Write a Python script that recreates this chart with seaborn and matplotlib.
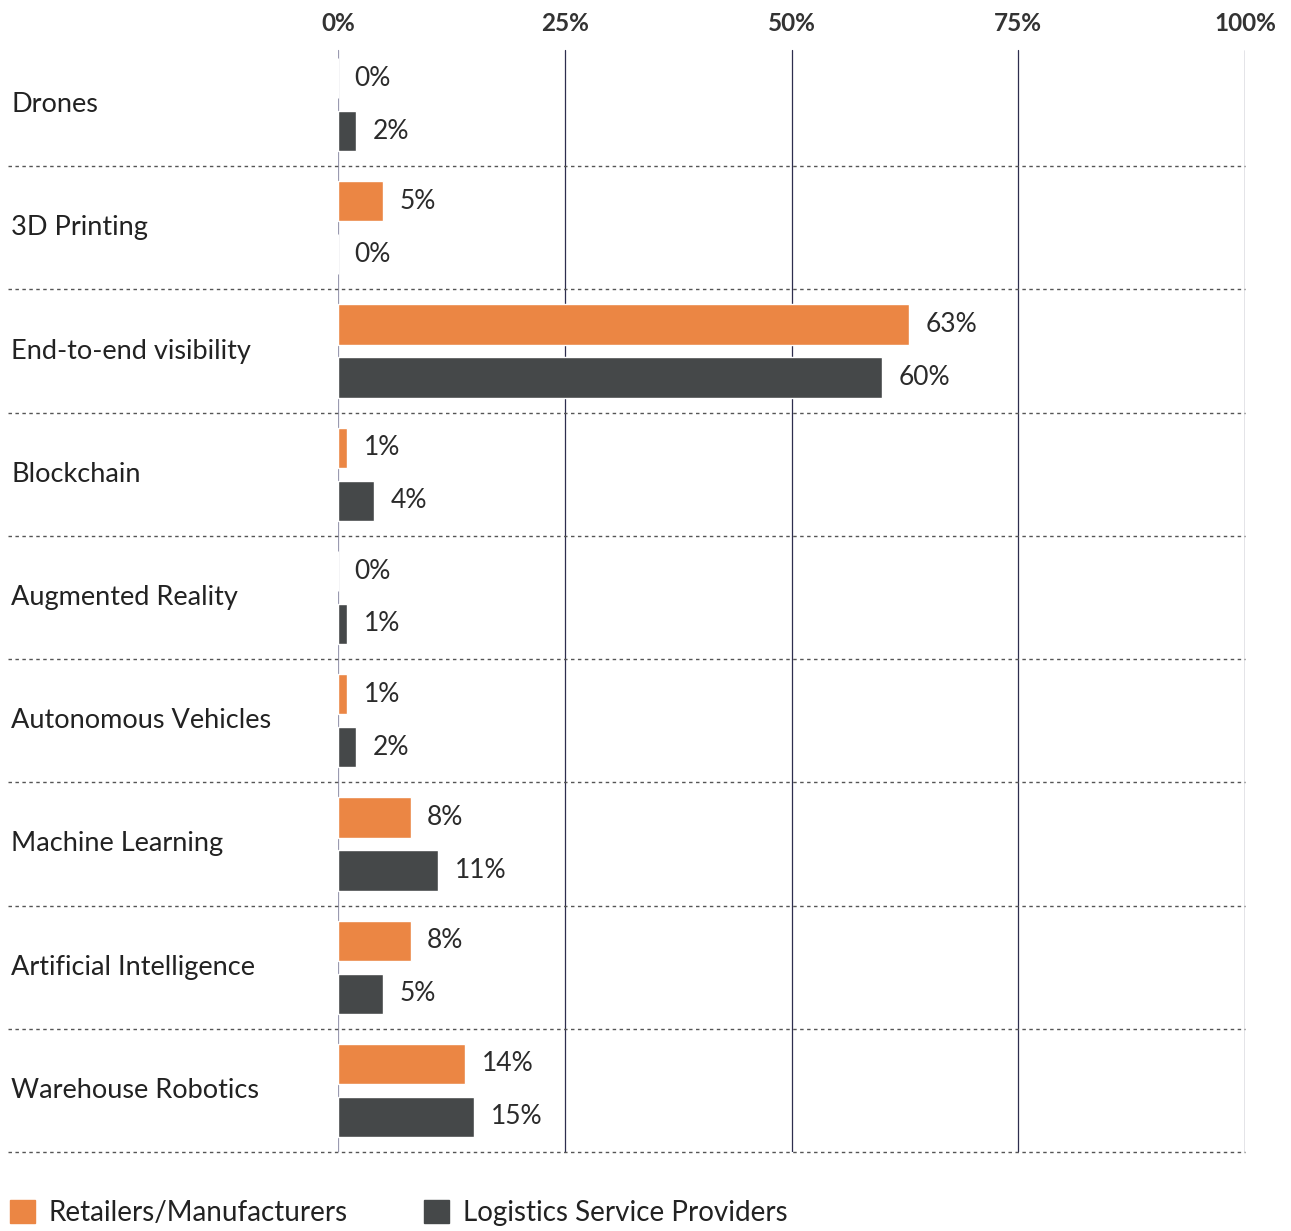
import matplotlib
matplotlib.use("Agg")
import matplotlib.pyplot as plt
import pandas as pd
import numpy as np
import seaborn as sns

categories = ["Drones", "3D Printing", "End-to-end visibility", "Blockchain",
              "Augmented Reality", "Autonomous Vehicles", "Machine Learning",
              "Artificial Intelligence", "Warehouse Robotics"]
retailers = [0, 5, 63, 1, 0, 1, 8, 8, 14]
logistics = [2, 0, 60, 4, 1, 2, 11, 5, 15]
series_names = ["Retailers/Manufacturers", "Logistics Service Providers"]
x_ticks = [0, 25, 50, 75, 100]

orange = "#EB8644"
dark = "#454849"

sns.set_theme(style="white")
plt.rcParams["font.family"] = ["Lato", "DejaVu Sans"]

df = pd.DataFrame({
    "Category": categories * 2,
    "Value": retailers + logistics,
    "Group": [series_names[0]] * len(categories) + [series_names[1]] * len(categories),
})

fig = plt.figure(figsize=(12.91, 12.31), dpi=100)
ax = fig.add_axes([338 / 1291, 1 - 1152 / 1231, 907 / 1291, (1152 - 43) / 1231])

sns.barplot(data=df, x="Value", y="Category", hue="Group", orient="h",
            palette=[orange, dark], width=0.86, gap=0.24, ax=ax,
            order=categories, hue_order=series_names, legend=False,
            errorbar=None, saturation=1)

ax.set_xlim(0, 100)
ax.set_ylim(len(categories) - 0.5, -0.5)

# vertical gridlines
for t in x_ticks:
    col = "#9a9ab0" if t == 0 else "#2e2e4e"
    ax.plot([t, t], [len(categories) - 0.5, -0.44], color=col, lw=0.9, zorder=0)

# dotted separators between categories
yt = ax.get_yaxis_transform()
for i in range(len(categories)):
    ax.plot([-0.364, 1.0], [i + 0.5, i + 0.5], transform=yt, color="#555555",
            lw=1.0, ls=(0, (2.5, 2.5)), clip_on=False, zorder=0)

# value labels
for cont in ax.containers:
    ax.bar_label(cont, labels=[f"{v:.0f}%" for v in cont.datavalues],
                 padding=12, fontsize=19, color="#2b2b2b")

# category labels
for i, c in enumerate(categories):
    ax.text(-0.36, i, c, transform=yt, ha="left", va="center",
            fontsize=19.5, color="#222222")

ax.set_yticks([])
ax.set_ylabel("")
ax.set_xlabel("")
ax.xaxis.tick_top()
ax.set_xticks(x_ticks)
ax.set_xticklabels([f"{t}%" for t in x_ticks], fontsize=17.5, fontweight="bold",
                   color="#333333")
ax.tick_params(axis="x", length=0, pad=6)
for s in ax.spines.values():
    s.set_visible(False)

# legend
handles = [plt.Rectangle((0, 0), 1, 1, color=orange),
           plt.Rectangle((0, 0), 1, 1, color=dark)]
fig.legend(handles, series_names, loc="lower left", bbox_to_anchor=(-0.012, -0.016),
           ncol=2, frameon=False, fontsize=20, handlelength=0.9,
           handleheight=0.9, handletextpad=0.5, columnspacing=2.75,
           labelcolor="#222222")

fig.savefig("out.png", dpi=100)
